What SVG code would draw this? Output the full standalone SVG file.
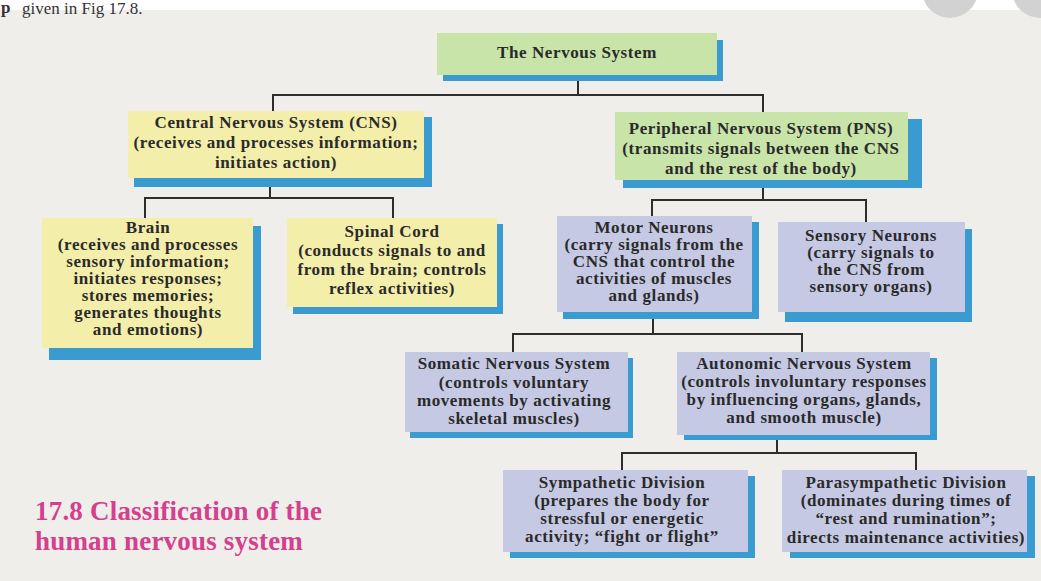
<svg xmlns="http://www.w3.org/2000/svg" width="1041" height="581" viewBox="0 0 1041 581">
  <style>
    .sh { fill: #3a9bd1; }
    .yb { fill: #f4eeab; }
    .gb { fill: #c8e4a9; }
    .bb { fill: #c5c9e3; }
    .t { font-family: "Liberation Serif", "Times New Roman", serif; font-weight: bold; font-size: 17px; fill: #2a2a2a; text-anchor: middle; letter-spacing: 0.6px; }
    .conn { stroke: #2d2d2d; stroke-width: 2; fill: none; }
    .cap { font-family: "Liberation Serif", "Times New Roman", serif; font-weight: bold; font-size: 27px; fill: #d4408c; letter-spacing: 0.2px; }
    .top { font-family: "Liberation Serif", "Times New Roman", serif; font-size: 17px; fill: #333; }
  </style>

  <!-- page -->
  <rect x="0" y="0" width="1041" height="581" fill="#ffffff"/>
  <rect x="0" y="10" width="1041" height="571" fill="#efeeeb"/>
  <circle cx="950" cy="-10" r="28" fill="#d2d2d2"/>
  <circle cx="1040" cy="-10" r="28" fill="#d2d2d2"/>
  <text class="top" x="1" y="13" font-weight="bold" font-size="18">p</text>
  <text class="top" x="22" y="14">given in Fig 17.8.</text>

  <g id="connectors">
    <path class="conn" d="M578,81 V95 M272,95 H764 M273,95 V111 M763,95 V112"/>
    <path class="conn" d="M270,187 V198 M144,198 H394 M145,198 V218 M393,198 V218"/>
    <path class="conn" d="M763,188 V200 M651,200 H867 M652,200 V216 M866,200 V222"/>
    <path class="conn" d="M653,319 V334 M512,334 H803 M513,334 V352 M802,334 V352"/>
    <path class="conn" d="M777,440 V453 M621,453 H917 M622,453 V470 M916,453 V470"/>
  </g>

  <g id="n-nervous">
    <rect class="sh" x="443" y="40" width="280" height="41"/>
    <rect class="gb" x="437" y="33" width="280" height="42"/>
    <text class="t" x="577" y="58">The Nervous System</text>
  </g>

  <g id="n-cns">
    <rect class="sh" x="134" y="117" width="298" height="70"/>
    <rect class="yb" x="128" y="111" width="296" height="67"/>
    <text class="t" x="276" y="128">Central Nervous System (CNS)</text>
    <text class="t" x="276" y="148">(receives and processes information;</text>
    <text class="t" x="276" y="168">initiates action)</text>
  </g>

  <g id="n-pns">
    <rect class="sh" x="623" y="119" width="299" height="69"/>
    <rect class="gb" x="615" y="112" width="293" height="68"/>
    <text class="t" x="761" y="134">Peripheral Nervous System (PNS)</text>
    <text class="t" x="761" y="154">(transmits signals between the CNS</text>
    <text class="t" x="761" y="174">and the rest of the body)</text>
  </g>

  <g id="n-brain">
    <rect class="sh" x="49" y="226" width="212" height="134"/>
    <rect class="yb" x="42" y="218" width="211" height="130"/>
    <text class="t" x="148" y="233">Brain</text>
    <text class="t" x="148" y="250">(receives and processes</text>
    <text class="t" x="148" y="267">sensory information;</text>
    <text class="t" x="148" y="284">initiates responses;</text>
    <text class="t" x="148" y="301">stores memories;</text>
    <text class="t" x="148" y="318">generates thoughts</text>
    <text class="t" x="148" y="335">and emotions)</text>
  </g>

  <g id="n-spinal">
    <rect class="sh" x="293" y="224" width="210" height="90"/>
    <rect class="yb" x="287" y="218" width="210" height="89"/>
    <text class="t" x="392" y="237">Spinal Cord</text>
    <text class="t" x="392" y="256">(conducts signals to and</text>
    <text class="t" x="392" y="275">from the brain; controls</text>
    <text class="t" x="392" y="294">reflex activities)</text>
  </g>

  <g id="n-motor">
    <rect class="sh" x="563" y="222" width="196" height="97"/>
    <rect class="bb" x="557" y="216" width="195" height="96"/>
    <text class="t" x="654" y="233">Motor Neurons</text>
    <text class="t" x="654" y="250">(carry signals from the</text>
    <text class="t" x="654" y="267">CNS that control the</text>
    <text class="t" x="654" y="284">activities of muscles</text>
    <text class="t" x="654" y="301">and glands)</text>
  </g>

  <g id="n-sensory">
    <rect class="sh" x="785" y="229" width="187" height="93"/>
    <rect class="bb" x="778" y="222" width="187" height="90"/>
    <text class="t" x="871" y="241">Sensory Neurons</text>
    <text class="t" x="871" y="258">(carry signals to</text>
    <text class="t" x="871" y="275">the CNS from</text>
    <text class="t" x="871" y="292">sensory organs)</text>
  </g>

  <g id="n-somatic">
    <rect class="sh" x="410" y="358" width="223" height="80"/>
    <rect class="bb" x="405" y="352" width="223" height="80"/>
    <text class="t" x="514" y="369">Somatic Nervous System</text>
    <text class="t" x="514" y="388">(controls voluntary</text>
    <text class="t" x="514" y="406">movements by activating</text>
    <text class="t" x="514" y="424">skeletal muscles)</text>
  </g>

  <g id="n-autonomic">
    <rect class="sh" x="684" y="358" width="253" height="82"/>
    <rect class="bb" x="677" y="352" width="253" height="83"/>
    <text class="t" x="804" y="369">Autonomic Nervous System</text>
    <text class="t" x="804" y="387">(controls involuntary responses</text>
    <text class="t" x="804" y="405">by influencing organs, glands,</text>
    <text class="t" x="804" y="423">and smooth muscle)</text>
  </g>

  <g id="n-sympathetic">
    <rect class="sh" x="510" y="476" width="245" height="82"/>
    <rect class="bb" x="503" y="470" width="245" height="82"/>
    <text class="t" x="622" y="488">Sympathetic Division</text>
    <text class="t" x="622" y="506">(prepares the body for</text>
    <text class="t" x="622" y="524">stressful or energetic</text>
    <text class="t" x="622" y="542">activity; “fight or flight”</text>
  </g>

  <g id="n-parasympathetic">
    <rect class="sh" x="790" y="476" width="245" height="82"/>
    <rect class="bb" x="782" y="470" width="245" height="82"/>
    <text class="t" x="906" y="488">Parasympathetic Division</text>
    <text class="t" x="906" y="506">(dominates during times of</text>
    <text class="t" x="906" y="524">“rest and rumination”;</text>
    <text class="t" x="906" y="543">directs maintenance activities)</text>
  </g>

  <g id="caption">
    <text class="cap" x="35" y="520">17.8 Classification of the</text>
    <text class="cap" x="35" y="550">human nervous system</text>
  </g>
</svg>
